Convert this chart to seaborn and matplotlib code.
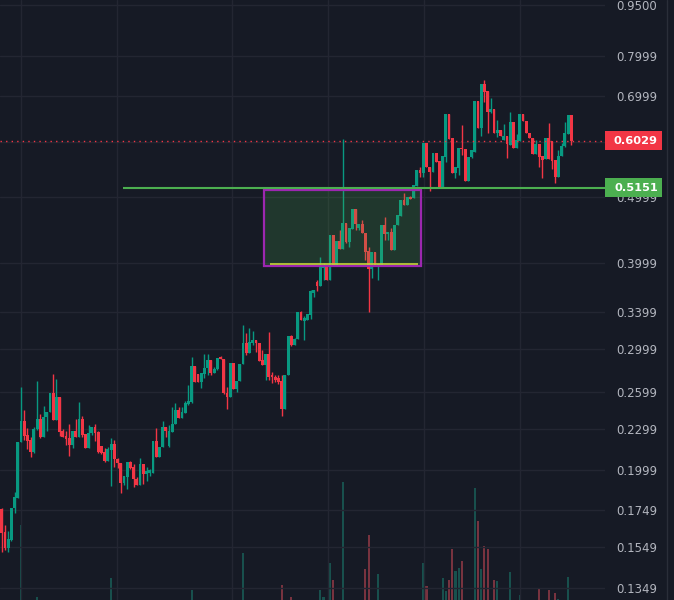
import matplotlib
matplotlib.use("Agg")
import matplotlib.pyplot as plt
from matplotlib.patches import Rectangle
from matplotlib.lines import Line2D
from matplotlib.ticker import NullLocator
import pandas as pd
import seaborn as sns

# candle data (one entry per bar, left to right)
opens = [
    .1756, .1626, .1541, .1583, .1762, .1822, .2198, .2359, .2251, .2213,
    .2126, .2297, .2374, .2236, .2391, .2431, .2591, .2367, .2556, .2281,
    .2243, .2228, .2176, .2281, .2236, .2374, .2259, .2154, .2266, .2312,
    .2274, .2169, .2126, .2063, .2140, .2184, .2077, .2049, .1917, .1955,
    .2056, .2022, .1942, .1904, .2042, .1975, .1982, .1982, .2206, .2090,
    .2162, .2312, .2169, .2274, .2335, .2447, .2383, .2423, .2497, .2513,
    .2835, .2761, .2688, .2761, .2817, .2893, .2770, .2807, .2922, .2903,
    .2591, .2556, .2864, .2626, .2697, .2855, .3063, .2962, .3063, .3094,
    .3063, .2893, .2845, .2953, .2752, .2733, .2724, .2697, .2455, .2752,
    .3136, .3043, .3104, .3398, .3297, .3308, .3364, .3622, .3757, .3707,
    .3938, .3951, .3782, .4397, .3978, .4310, .4196, .4577, .4296, .4487,
    .4798, .4502, .4562, .4427, .4168, .3925, .4154, .3965, .3978, .4547,
    .4412, .4442, .4182, .4547, .4686, .4944, .4862, .4994, .4977, .5182,
    .5467, .5412, .5984, .5522, .5430, .5786, .5634, .5165, .5709, .6597,
    .6085, .5412, .5503, .5884, .5865, .5270, .5709, .5806, .6888, .6293,
    .7290, .7123, .6642, .6705, .6189, .6251, .6045, .6126, .5945, .6421,
    .5884, .6025, .6597, .6442, .6189, .6085, .5767, .5964, .5728, .5672,
    .6085, .6025, .5653, .5340, .5728, .5925, .6168, .6575,
]
highs = [
    .1760, .1665, .1632, .1765, .1860, .2200, .2643, .2447, .2304, .2236,
    .2312, .2697, .2414, .2480, .2431, .2591, .2761, .2715, .2556, .2297,
    .2281, .2335, .2281, .2374, .2513, .2399, .2259, .2327, .2312, .2335,
    .2281, .2169, .2154, .2162, .2228, .2213, .2084, .2049, .1962, .2056,
    .2060, .2042, .1955, .2084, .2042, .2022, .2008, .2206, .2304, .2162,
    .2359, .2312, .2327, .2472, .2505, .2472, .2472, .2522, .2661, .2922,
    .2835, .2761, .2770, .2953, .2953, .2893, .2826, .2912, .2932, .2903,
    .2643, .2864, .2864, .2697, .2855, .3253, .3166, .3221, .3189, .3094,
    .3063, .2992, .2953, .3178, .2779, .2752, .2752, .2752, .2752, .3136,
    .3150, .3115, .3398, .3410, .3352, .3375, .3658, .3658, .3782, .4086,
    .4005, .3960, .4397, .4397, .4310, .4472, .6065, .4577, .4502, .4798,
    .4798, .4562, .4624, .4427, .4224, .4154, .4154, .3991, .4547, .4670,
    .4442, .4502, .4547, .4703, .4944, .5061, .4994, .5010, .5199, .5467,
    .5522, .5984, .5984, .5522, .5786, .5786, .5634, .5728, .6597, .6597,
    .6085, .5522, .5884, .6357, .5865, .5709, .5845, .6888, .6888, .7290,
    .7390, .7123, .6957, .6705, .6464, .6251, .6378, .6126, .6642, .6421,
    .6168, .6597, .6597, .6442, .6189, .6085, .6045, .5964, .5728, .6085,
    .6400, .6025, .5653, .5845, .5984, .6421, .6575, .6575,
]
lows = [
    .1521, .1531, .1521, .1580, .1734, .1820, .2195, .2213, .2147, .2090,
    .2119, .2289, .2228, .2236, .2281, .2431, .2367, .2367, .2243, .2236,
    .2176, .2098, .2154, .2236, .2236, .2236, .2154, .2154, .2251, .2206,
    .2119, .2112, .2056, .2063, .1897, .2022, .2015, .1853, .1904, .1878,
    .2008, .1891, .1904, .1904, .1910, .1929, .1962, .1982, .2090, .2090,
    .2162, .2236, .2162, .2274, .2335, .2383, .2383, .2423, .2489, .2505,
    .2688, .2688, .2634, .2724, .2752, .2752, .2770, .2798, .2903, .2583,
    .2455, .2556, .2626, .2600, .2697, .2855, .2943, .2962, .3043, .2972,
    .2883, .2845, .2706, .2706, .2679, .2688, .2670, .2399, .2455, .2752,
    .3030, .3043, .3104, .3308, .3094, .3308, .3319, .3573, .3646, .3707,
    .3782, .3782, .3782, .3978, .3978, .4196, .4196, .4282, .4224, .4487,
    .4472, .4472, .4427, .4045, .3398, .3808, .3965, .3782, .3978, .4325,
    .4325, .4182, .4182, .4547, .4686, .4862, .4862, .4961, .4977, .5182,
    .5340, .5340, .5522, .5096, .5430, .5616, .5165, .5165, .5616, .6065,
    .5412, .5322, .5376, .5747, .5270, .5270, .5690, .5806, .6293, .6126,
    .6865, .6189, .6620, .6189, .6105, .6126, .6045, .5690, .5945, .5884,
    .5884, .6025, .6442, .6189, .6085, .5767, .5767, .5522, .5322, .5672,
    .5672, .5485, .5233, .5340, .5728, .5905, .6168, .5945,
]
closes = [
    .1621, .1541, .1588, .1762, .1828, .2198, .2359, .2243, .2206, .2126,
    .2297, .2374, .2236, .2391, .2431, .2591, .2367, .2556, .2274, .2236,
    .2221, .2176, .2281, .2236, .2374, .2251, .2154, .2266, .2312, .2266,
    .2126, .2119, .2063, .2147, .2184, .2077, .2049, .1917, .1962, .2056,
    .2015, .1942, .1904, .2042, .1975, .1995, .2002, .2206, .2090, .2162,
    .2312, .2281, .2281, .2335, .2447, .2383, .2431, .2505, .2522, .2835,
    .2688, .2688, .2770, .2817, .2893, .2770, .2807, .2912, .2903, .2591,
    .2556, .2864, .2626, .2697, .2855, .3063, .2962, .3073, .3094, .3063,
    .2883, .2845, .2953, .2733, .2733, .2706, .2688, .2455, .2752, .3136,
    .3043, .3104, .3398, .3308, .3330, .3375, .3646, .3658, .3707, .3951,
    .3978, .3782, .4397, .3978, .4310, .4196, .4577, .4296, .4502, .4798,
    .4562, .4562, .4427, .4154, .3925, .4154, .3965, .3991, .4547, .4412,
    .4442, .4182, .4547, .4703, .4944, .4862, .4994, .4961, .5199, .5467,
    .5412, .5984, .5522, .5430, .5786, .5616, .5165, .5728, .6597, .6065,
    .5412, .5522, .5884, .5865, .5270, .5709, .5845, .6888, .6293, .7290,
    .7099, .6642, .6705, .6189, .6251, .6126, .6126, .5964, .6421, .5884,
    .6045, .6597, .6442, .6189, .6085, .5767, .5964, .5709, .5653, .6085,
    .5672, .5634, .5340, .5728, .5925, .6189, .6575, .6029,
]

# volume bars that reach into the visible area
vol_index = [6, 11, 34, 59, 75, 87, 90, 99, 100, 102,
             103, 106, 113, 114, 117, 131, 132, 137, 138, 139,
             140, 141, 142, 143, 147, 148, 149, 150, 151, 153,
             154, 158, 161, 167, 170, 172, 173, 176]
vol_value = [115, 43, 62, 50, 87, 55, 43, 50, 43, 77,
             60, 158, 71, 105, 66, 77, 54, 62, 49, 60,
             91, 69, 72, 79, 152, 119, 71, 94, 91, 60,
             59, 68, 45, 51, 50, 47, 41, 63]

# 0.5999 sits behind the last-price tag, so its label stays empty
tick_values = [0.95, 0.7999, 0.6999, 0.5999, 0.4999, 0.3999, 0.3399,
               0.2999, 0.2599, 0.2299, 0.1999, 0.1749, 0.1549, 0.1349]
tick_labels = ["0.9500", "0.7999", "0.6999", "", "0.4999", "0.3999", "0.3399",
               "0.2999", "0.2599", "0.2299", "0.1999", "0.1749", "0.1549", "0.1349"]

last_price = 0.6029
level_price = 0.5151

BG = "#161a25"
GRID = "#232632"
UP = "#089981"
DOWN = "#f23645"
LEVEL = "#4caf50"
TEXT = "#b2b5be"

W, H = 674, 600
PLOT_W = 605

sns.set_theme(style="dark", rc={"figure.facecolor": BG, "axes.facecolor": BG,
                                "savefig.facecolor": BG})
plt.rcParams["font.family"] = ["DejaVu Sans"]

df = pd.DataFrame({"open": opens, "high": highs, "low": lows, "close": closes})
df["x"] = range(len(df))
df["up"] = df["close"] >= df["open"]
df["color"] = df["up"].map({True: UP, False: DOWN})

vol = pd.DataFrame({"x": vol_index, "volume": vol_value})
vol["dir"] = ["up" if df.loc[i, "up"] else "down" for i in vol_index]

fig = plt.figure(figsize=(W / 100, H / 100), dpi=100)
rect = [0, 0, PLOT_W / W, 1]
axv = fig.add_axes(rect)
ax = fig.add_axes(rect)
ax.patch.set_visible(False)

x_range = (-0.53, 187.47)

# volume in the background
sns.barplot(data=vol, x="x", y="volume", hue="dir", palette={"up": UP, "down": DOWN},
            native_scale=True, width=0.65, dodge=False, errorbar=None, alpha=0.5,
            linewidth=0, legend=False, ax=axv)
axv.set_xlim(x_range)
axv.set_ylim(40, 640)
axv.set_axis_off()

# candles
ax.set_yscale("log")
ax.vlines(df["x"], df["low"], df["high"], colors=df["color"], linewidth=1, zorder=2)
body_low = df[["open", "close"]].min(axis=1)
body_h = (df["close"] - df["open"]).abs()
ax.bar(df["x"], body_h, bottom=body_low, width=0.88, color=df["color"], linewidth=0, zorder=2)

ax.set_xlim(x_range)
ax.set_ylim(0.1295, 0.966)

# grid
ax.set_axisbelow(True)
ax.set_xticks([6.0, 35.8, 71.6, 101.4, 131.2, 161.1])
ax.set_yticks(tick_values)
ax.set_yticklabels(tick_labels)
ax.yaxis.set_minor_locator(NullLocator())
ax.grid(True, color=GRID, linewidth=1)
ax.yaxis.tick_right()
ax.tick_params(axis="x", length=0, labelbottom=False)
ax.tick_params(axis="y", length=0, pad=8, labelsize=8.5, labelcolor=TEXT)
for s in ax.spines.values():
    s.set_visible(False)

# drawings
box = Rectangle((81.5, 0.397), 48.8, 0.114, facecolor=(0.30, 0.69, 0.31, 0.2),
                edgecolor="#9c27b0", linewidth=1.6, zorder=3)
ax.add_patch(box)
ax.hlines(0.3991, 83.4, 129.4, color="#c8d23a", linewidth=1.2, zorder=4)
ax.hlines(level_price, 37.7, x_range[1], color=LEVEL, linewidth=1.5, zorder=4)
ax.axhline(last_price, color=DOWN, linewidth=1, linestyle=(0, (1, 3)), zorder=4)

# price labels on the scale
for price, col in [(last_price, DOWN), (level_price, LEVEL)]:
    yc = ax.transData.transform((0, price))[1]
    fig.add_artist(Rectangle((PLOT_W / W, (yc - 9.5) / H), 57 / W, 19 / H,
                             transform=fig.transFigure, facecolor=col, edgecolor="none"))
    fig.text(636 / W, yc / H, f"{price:.4f}", color="white", fontsize=8.2,
             fontweight="bold", ha="center", va="center")

fig.add_artist(Line2D([667 / W, 667 / W], [0, 1], transform=fig.transFigure,
                      color="#2a2e39", linewidth=1))

fig.savefig("out.png", dpi=100, facecolor=BG)
